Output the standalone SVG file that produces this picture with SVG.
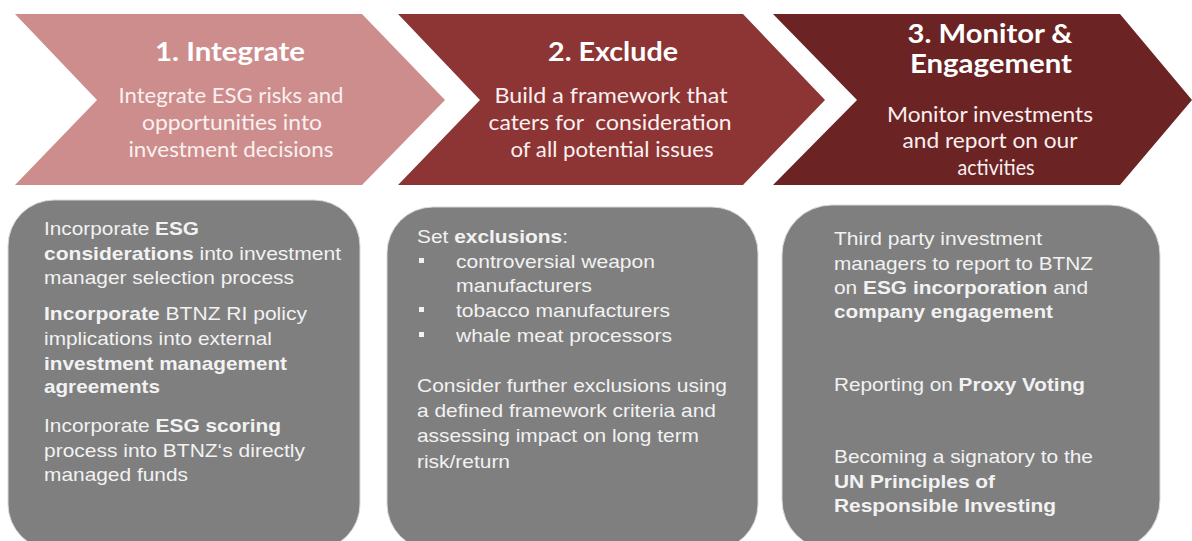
<svg xmlns="http://www.w3.org/2000/svg" width="1192" height="541" viewBox="0 0 1192 541">
<defs>
<style>
.ct{font-family:Lato,"Open Sans","Liberation Sans",sans-serif;fill:#ffffff;text-anchor:middle}
.ttl{font-size:26px;font-weight:bold}
.sub{font-size:21px;fill:#fbf0f0}
.bx{fill:#7f7f7f;stroke:#d9d9d9;stroke-width:1}
.bt{font-family:"Liberation Sans",Arial,sans-serif;font-size:19px;fill:#f2f2f2}
.b{font-weight:bold}
.sq{fill:#f2f2f2}
</style>
</defs>
<rect width="1192" height="541" fill="#ffffff"/>
<g id="step1">
<polygon points="15,14 362,14 445,100 362,185 15,185 97,100" fill="#cc8d8c"/>
<text class="ct ttl" x="230" y="61" textLength="150" lengthAdjust="spacingAndGlyphs">1. Integrate</text>
<text class="ct sub" x="231" y="103" textLength="225" lengthAdjust="spacingAndGlyphs">Integrate ESG risks and</text>
<text class="ct sub" x="232" y="130" textLength="180" lengthAdjust="spacingAndGlyphs">opportunities into</text>
<text class="ct sub" x="231" y="157" textLength="205" lengthAdjust="spacingAndGlyphs">investment decisions</text>
</g>
<g id="step2">
<polygon points="398,14 743,14 825,100 743,185 398,185 480,100" fill="#8d3434"/>
<text class="ct ttl" x="613" y="61" textLength="130" lengthAdjust="spacingAndGlyphs">2. Exclude</text>
<text class="ct sub" x="611" y="103" textLength="233" lengthAdjust="spacingAndGlyphs">Build a framework that</text>
<text class="ct sub" x="610" y="130" textLength="243" lengthAdjust="spacingAndGlyphs" xml:space="preserve">caters for  consideration</text>
<text class="ct sub" x="612" y="157" textLength="203" lengthAdjust="spacingAndGlyphs">of all potential issues</text>
</g>
<g id="step3">
<polygon points="773,14 1120,14 1192,100 1120,185 773,185 857,100" fill="#6b2324"/>
<text class="ct ttl" x="990" y="43" textLength="165" lengthAdjust="spacingAndGlyphs">3. Monitor &amp;</text>
<text class="ct ttl" x="991" y="73" textLength="162" lengthAdjust="spacingAndGlyphs">Engagement</text>
<text class="ct sub" x="990" y="122" textLength="206" lengthAdjust="spacingAndGlyphs">Monitor investments</text>
<text class="ct sub" x="990" y="148" textLength="175" lengthAdjust="spacingAndGlyphs">and report on our</text>
<text class="ct sub" x="996" y="175" textLength="77" lengthAdjust="spacingAndGlyphs">activities</text>
</g>
<g id="box1">
<rect class="bx" x="8" y="200" width="352" height="350" rx="46" ry="46"/>
<text class="bt" x="44" y="235" textLength="155" lengthAdjust="spacingAndGlyphs">Incorporate <tspan class="b">ESG</tspan></text>
<text class="bt" x="44" y="260" textLength="297" lengthAdjust="spacingAndGlyphs"><tspan class="b">considerations</tspan> into investment</text>
<text class="bt" x="44" y="284" textLength="250" lengthAdjust="spacingAndGlyphs">manager selection process</text>
<text class="bt" x="44" y="320" textLength="263" lengthAdjust="spacingAndGlyphs"><tspan class="b">Incorporate</tspan> BTNZ RI policy</text>
<text class="bt" x="44" y="345" textLength="228" lengthAdjust="spacingAndGlyphs">implications into external</text>
<text class="bt b" x="44" y="370" textLength="243" lengthAdjust="spacingAndGlyphs">investment management</text>
<text class="bt b" x="44" y="393" textLength="116" lengthAdjust="spacingAndGlyphs">agreements</text>
<text class="bt" x="44" y="432" textLength="237" lengthAdjust="spacingAndGlyphs">Incorporate <tspan class="b">ESG scoring</tspan></text>
<text class="bt" x="44" y="457" textLength="261" lengthAdjust="spacingAndGlyphs">process into BTNZ‘s directly</text>
<text class="bt" x="44" y="481" textLength="144" lengthAdjust="spacingAndGlyphs">managed funds</text>
</g>
<g id="box2">
<rect class="bx" x="387" y="207" width="371" height="343" rx="46" ry="46"/>
<text class="bt" x="417" y="243" textLength="151" lengthAdjust="spacingAndGlyphs">Set <tspan class="b">exclusions</tspan>:</text>
<rect class="sq" x="419" y="258" width="5" height="5"/>
<text class="bt" x="456" y="268" textLength="199" lengthAdjust="spacingAndGlyphs">controversial weapon</text>
<text class="bt" x="456" y="292" textLength="136" lengthAdjust="spacingAndGlyphs">manufacturers</text>
<rect class="sq" x="419" y="307" width="5" height="5"/>
<text class="bt" x="456" y="317" textLength="214" lengthAdjust="spacingAndGlyphs">tobacco manufacturers</text>
<rect class="sq" x="419" y="332" width="5" height="5"/>
<text class="bt" x="456" y="342" textLength="216" lengthAdjust="spacingAndGlyphs">whale meat processors</text>
<text class="bt" x="417" y="392" textLength="310" lengthAdjust="spacingAndGlyphs">Consider further exclusions using</text>
<text class="bt" x="417" y="417" textLength="299" lengthAdjust="spacingAndGlyphs">a defined framework criteria and</text>
<text class="bt" x="417" y="442" textLength="282" lengthAdjust="spacingAndGlyphs">assessing impact on long term</text>
<text class="bt" x="417" y="468" textLength="93" lengthAdjust="spacingAndGlyphs">risk/return</text>
</g>
<g id="box3">
<rect class="bx" x="782" y="205" width="378" height="345" rx="50" ry="50"/>
<text class="bt" x="834" y="245" textLength="208" lengthAdjust="spacingAndGlyphs">Third party investment</text>
<text class="bt" x="834" y="270" textLength="259" lengthAdjust="spacingAndGlyphs">managers to report to BTNZ</text>
<text class="bt" x="834" y="294" textLength="254" lengthAdjust="spacingAndGlyphs">on <tspan class="b">ESG incorporation</tspan> and</text>
<text class="bt b" x="834" y="318" textLength="219" lengthAdjust="spacingAndGlyphs">company engagement</text>
<text class="bt" x="834" y="391" textLength="251" lengthAdjust="spacingAndGlyphs">Reporting on <tspan class="b">Proxy Voting</tspan></text>
<text class="bt" x="834" y="463" textLength="259" lengthAdjust="spacingAndGlyphs">Becoming a signatory to the</text>
<text class="bt b" x="834" y="488" textLength="161" lengthAdjust="spacingAndGlyphs">UN Principles of</text>
<text class="bt b" x="834" y="512" textLength="222" lengthAdjust="spacingAndGlyphs">Responsible Investing</text>
</g>
<g id="connectors"></g>
</svg>
